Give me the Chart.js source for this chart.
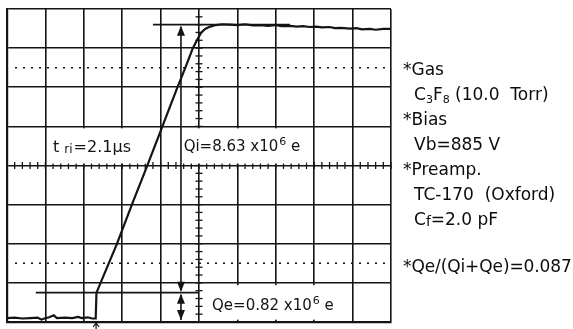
<!DOCTYPE html>
<html>
<head>
<meta charset="utf-8">
<script src="https://cdn.jsdelivr.net/npm/chart.js@4/dist/chart.umd.min.js"></script>
<style>
  html, body { margin: 0; padding: 0; background: #fff; }
  #wrap { position: relative; width: 573px; height: 329px; overflow: hidden; }
  #scope { position: absolute; left: 0; top: 0; }
  .notes { position: absolute; left: 403px; top: 57px; font: 17px "DejaVu Sans", sans-serif;
           line-height: 25px; color: #0c0c0c; }
  .notes div { height: 25px; white-space: pre; }
  .notes .ind { padding-left: 11px; }
  .notes sub { font-size: 11px; vertical-align: -3px; line-height: 0; }
  .notes .gap { margin-top: 22px; letter-spacing: -0.1px; }
</style>
</head>
<body>
<div id="wrap">
  <canvas id="scope" width="573" height="329"></canvas>
  <div class="notes"><div>*Gas</div><div class="ind">C<sub>3</sub>F<sub>8</sub> (10.0  Torr)</div><div>*Bias</div><div class="ind">Vb=885 V</div><div>*Preamp.</div><div class="ind">TC-170  (Oxford)</div><div class="ind">C<sub style="font-size:14px;vertical-align:-1px">f</sub>=2.0 pF</div><div class="gap">*Qe/(Qi+Qe)=0.087</div></div>
</div>
<script>
// Oscilloscope screen: 10 horizontal x 8 vertical divisions.
const xDivisions = [0, 10];
const yDivisions = [0, 8];

// Preamp output trace, in screen divisions.
const traceX = [0.00, 0.20, 0.40, 0.60, 0.80, 0.90, 0.97, 1.10, 1.22, 1.30, 1.50, 1.70, 1.85, 1.95, 2.10, 2.22, 2.31,
                2.33, 2.86, 3.26, 3.65, 4.04, 4.43, 4.64, 4.84, 4.95, 5.05, 5.16, 5.29, 5.44,
                5.60, 5.81, 6.00, 6.20, 6.40, 6.59, 6.80, 6.98, 7.15, 7.37, 7.55, 7.70, 7.89, 8.05, 8.20,
                8.40, 8.54, 8.70, 8.93, 9.10, 9.25, 9.45, 9.60, 9.80, 10.00];
const traceY = [0.10, 0.11, 0.09, 0.10, 0.11, 0.06, 0.09, 0.12, 0.17, 0.10, 0.11, 0.10, 0.13, 0.10, 0.12, 0.09, 0.09,
                0.75, 1.99, 3.02, 3.99, 4.98, 5.98, 6.49, 7.00, 7.21, 7.39, 7.49, 7.55, 7.59,
                7.61, 7.60, 7.59, 7.61, 7.58, 7.59, 7.57, 7.59, 7.56, 7.57, 7.55, 7.56, 7.54, 7.55, 7.53,
                7.54, 7.51, 7.52, 7.50, 7.51, 7.48, 7.49, 7.47, 7.49, 7.49];

// Charge readings (x10^6 e) and the vertical calibration used for the cursors.
const qiValue = 8.63;
const qeValue = 0.82;
const chargePerDiv = 1.26;
const baselineLevel = 0.10;
const qeLevel = baselineLevel + qeValue / chargePerDiv;
const qiLevel = qeLevel + qiValue / chargePerDiv;

// Cursor extents (divisions) and arrow column.
const qiCursorX = [3.80, 7.37];
const qeCursorX = [0.75, 5.00];
const arrowX = 4.53;
const triggerX = 2.32;

// Annotation texts.
const riseLabel = { main: 't', sub: 'ri', rest: '=2.1μs' };
const qiLabel = { main: 'Qi=' + qiValue.toFixed(2) + ' x10', sup: '6', rest: ' e' };
const qeLabel = { main: 'Qe=' + qeValue.toFixed(2) + ' x10', sup: '6', rest: ' e' };

const trace = traceX.map((x, i) => ({ x, y: traceY[i] }));
const ink = '#141414';

function px(chart, x, y) {
  return [chart.scales.x.getPixelForValue(x), chart.scales.y.getPixelForValue(y)];
}

function drawArrowHead(ctx, x, y, dir) {
  // dir = -1 points up, +1 points down; (x,y) is the tip
  ctx.beginPath();
  ctx.moveTo(x, y);
  ctx.lineTo(x - 4, y - dir * 10);
  ctx.lineTo(x + 4, y - dir * 10);
  ctx.closePath();
  ctx.fill();
}

function blankBox(ctx, chart, box) {
  const [b0x, b0y] = px(chart, box[0], box[1]);
  const [b1x, b1y] = px(chart, box[2], box[3]);
  ctx.fillStyle = '#fff';
  ctx.fillRect(b0x, b1y, b1x - b0x, b0y - b1y);
}

const graticule = {
  id: 'graticule',
  beforeDatasetsDraw(chart) {
    const ctx = chart.ctx;
    const a = chart.chartArea;
    ctx.save();
    ctx.strokeStyle = ink;
    // dotted reference lines
    ctx.lineWidth = 1.6;
    ctx.setLineDash([2, 6]);
    [1.5, 6.5].forEach(v => {
      const y = chart.scales.y.getPixelForValue(v);
      ctx.beginPath();
      ctx.moveTo(a.left + 8, y);
      ctx.lineTo(a.right, y);
      ctx.stroke();
    });
    ctx.setLineDash([]);
    // minor ticks along the centre axes
    ctx.lineWidth = 1.3;
    const cx = chart.scales.x.getPixelForValue(5);
    const cy = chart.scales.y.getPixelForValue(4);
    for (let v = 0.2; v < 10; v += 0.2) {
      const x = chart.scales.x.getPixelForValue(v);
      ctx.beginPath(); ctx.moveTo(x, cy - 3.5); ctx.lineTo(x, cy + 3.5); ctx.stroke();
    }
    for (let v = 0.2; v < 8; v += 0.2) {
      const y = chart.scales.y.getPixelForValue(v);
      ctx.beginPath(); ctx.moveTo(cx - 3.5, y); ctx.lineTo(cx + 3.5, y); ctx.stroke();
    }
    // blank backgrounds behind the readouts
    blankBox(ctx, chart, [1.10, 4.05, 3.62, 4.95]);
    blankBox(ctx, chart, [4.57, 4.05, 7.80, 4.95]);
    blankBox(ctx, chart, [5.25, 0.06, 8.70, 0.94]);
    ctx.restore();
  },
  afterDatasetsDraw(chart) {
    const ctx = chart.ctx;
    ctx.save();
    ctx.strokeStyle = ink;
    ctx.fillStyle = ink;
    ctx.lineWidth = 1.6;
    // Qi and Qe double arrows
    const [ax, yQi] = px(chart, arrowX, qiLevel);
    const yQe = chart.scales.y.getPixelForValue(qeLevel);
    const yBase = chart.scales.y.getPixelForValue(baselineLevel) + 2;
    ctx.beginPath(); ctx.moveTo(ax, yQi + 2); ctx.lineTo(ax, yQe - 2); ctx.stroke();
    drawArrowHead(ctx, ax, yQi + 1, -1);
    drawArrowHead(ctx, ax, yQe - 1, 1);
    ctx.beginPath(); ctx.moveTo(ax, yQe + 2); ctx.lineTo(ax, yBase); ctx.stroke();
    drawArrowHead(ctx, ax, yQe + 1, -1);
    drawArrowHead(ctx, ax, yBase, 1);

    // trigger marker under the screen
    const tx = chart.scales.x.getPixelForValue(triggerX);
    const ty = chart.chartArea.bottom + 1;
    ctx.lineWidth = 1.2;
    ctx.beginPath();
    ctx.moveTo(tx - 3, ty + 4); ctx.lineTo(tx, ty); ctx.lineTo(tx + 3, ty + 4);
    ctx.moveTo(tx, ty); ctx.lineTo(tx, ty + 7);
    ctx.stroke();

    // readouts
    const big = '15px "DejaVu Sans", sans-serif';
    const small = '11px "DejaVu Sans", sans-serif';
    ctx.textBaseline = 'alphabetic';
    let [x, y] = px(chart, 1.20, 4.35);
    ctx.font = '16px "DejaVu Sans", sans-serif'; ctx.fillText(riseLabel.main, x, y); x += ctx.measureText(riseLabel.main).width + 5;
    ctx.font = '12px "DejaVu Sans", sans-serif'; ctx.fillText(riseLabel.sub, x, y + 1); x += ctx.measureText(riseLabel.sub).width + 1;
    ctx.font = '16px "DejaVu Sans", sans-serif'; ctx.fillText(riseLabel.rest, x, y);

    [[qiLabel, 4.60, 4.37], [qeLabel, 5.34, 0.31]].forEach(([lbl, lx, ly]) => {
      let [x, y] = px(chart, lx, ly);
      ctx.font = big; ctx.fillText(lbl.main, x, y); x += ctx.measureText(lbl.main).width + 1;
      ctx.font = small; ctx.fillText(lbl.sup, x, y - 6); x += ctx.measureText(lbl.sup).width;
      ctx.font = big; ctx.fillText(lbl.rest, x, y);
    });
    ctx.restore();
  }
};

const axisStyle = (range) => ({
  type: 'linear', min: range[0], max: range[1],
  ticks: { display: false, stepSize: 1 },
  grid: { color: ink, lineWidth: 1.6, drawTicks: false },
  border: { display: true, color: ink, width: 2.2 }
});

new Chart(document.getElementById('scope'), {
  type: 'line',
  data: {
    datasets: [
      { data: trace, borderColor: ink, borderWidth: 2.2, pointRadius: 0, tension: 0 },
      { data: qiCursorX.map(x => ({ x, y: qiLevel })), borderColor: ink, borderWidth: 1.6, pointRadius: 0 },
      { data: qeCursorX.map(x => ({ x, y: qeLevel })), borderColor: ink, borderWidth: 1.6, pointRadius: 0 }
    ]
  },
  options: {
    responsive: false,
    animation: false,
    devicePixelRatio: 1,
    layout: { padding: { left: 7, top: 9, right: 182, bottom: 7 } },
    plugins: { legend: { display: false }, tooltip: { enabled: false } },
    scales: { x: axisStyle(xDivisions), y: axisStyle(yDivisions) }
  },
  plugins: [graticule]
});
</script>
</body>
</html>
